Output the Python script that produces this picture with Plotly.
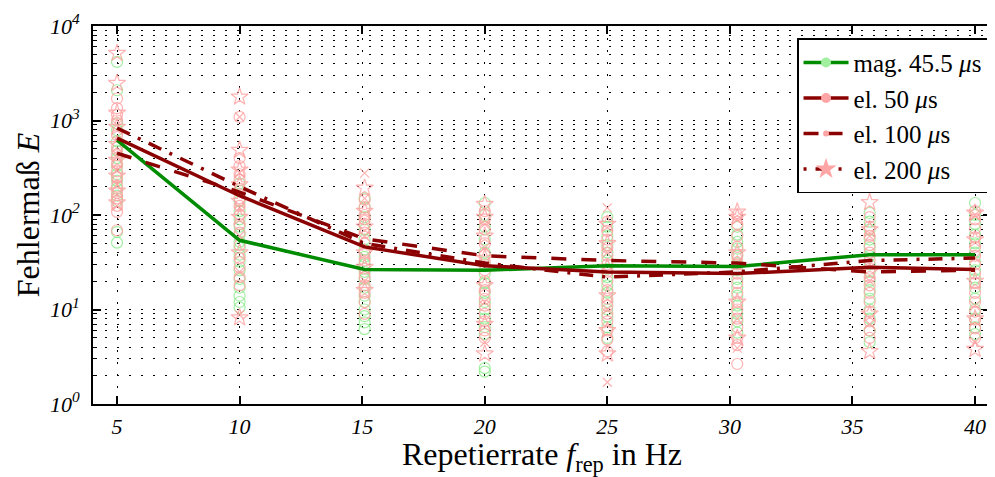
import plotly.graph_objects as go

# ---------------- data ----------------
freqs = [5, 10, 15.1, 20, 25, 30.3, 35.7, 40]

# mean lines
mean_mag45 = [620, 54, 26.5, 26, 29, 28.5, 38, 38]
mean_el50 = [650, 160, 46, 29, 25, 24, 28, 26.5]
mean_el100 = [450, 175, 56, 37, 33, 31, 25, 26]
mean_el200 = [830, 200, 50, 31, 22, 25, 33, 35]

# individual measurements per repetition rate
pts_mag45 = [
    [4170, 2090, 930, 790, 600, 480, 400, 330, 270, 230, 190, 160, 140, 66, 51],
    [215, 180, 140, 110, 90, 75, 62, 52, 45, 38, 32, 26, 21, 17, 14, 12, 10.5],
    [150, 120, 95, 70, 55, 43, 36, 30, 25, 21, 17, 14, 12, 10, 8.5, 7.3, 6.2],
    [134, 100, 75, 55, 40, 30, 24, 19, 15, 12, 10, 8, 6.5, 5.5, 2.4, 2.2],
    [95, 75, 60, 48, 40, 33, 27, 22, 18, 15, 12, 10, 8.4, 6.5, 5],
    [75, 62, 52, 44, 37, 31, 26, 21, 17, 14, 11, 9, 7.5, 5.7],
    [105, 85, 70, 55, 45, 37, 30, 25, 20, 16, 13, 10, 8, 6, 4.5],
    [134, 100, 80, 62, 50, 40, 32, 26, 21, 17, 13, 10, 8, 6.5, 5.5],
]
pts_el50 = [
    [1710, 1350, 1150, 1000, 700, 520, 430, 350, 290, 250, 200, 170, 150, 125, 108, 69],
    [1090, 400, 330, 270, 235, 190, 150, 125, 100, 80, 65, 48, 35, 28, 22, 18],
    [145, 121, 100, 90, 80, 65, 50, 40, 33, 27, 22, 18, 15, 12, 9],
    [110, 90, 70, 50, 38, 32, 26, 20, 16, 13, 11, 9, 7.5, 6, 5],
    [85, 68, 55, 45, 37, 30, 25, 20, 16, 13, 11, 9, 7.5, 6, 4.8, 3.6],
    [100, 80, 60, 46, 38, 30, 24, 19, 15, 12, 10, 8, 6.5, 5, 4.2, 2.65],
    [95, 75, 60, 48, 40, 33, 27, 22, 18, 15, 12, 9.5, 7.5, 6, 5],
    [110, 90, 72, 58, 46, 37, 30, 24, 19, 15, 12, 9.5, 7.8, 6.3, 5],
]
pts_el100 = [
    [900, 620, 410, 300, 210, 124],
    [1090, 280, 120, 60, 25, 8.8],
    [277, 150, 60, 20],
    [80, 45, 12, 4.5],
    [119, 40, 10, 1.7],
    [90, 30, 8, 3.9],
    [60, 20, 7],
    [100, 35, 11, 4.5],
]
pts_el200 = [
    [5150, 2480, 1200, 850, 560, 380, 260, 180, 135],
    [1780, 486, 300, 210, 140, 95, 40, 8.2],
    [193, 110, 75, 40, 28, 16],
    [130, 95, 60, 35, 18, 7, 3.4],
    [80, 50, 28, 14, 6, 3.4],
    [108, 95, 40, 12, 5],
    [136, 70, 25, 9, 3.6],
    [105, 55, 20, 8, 3.8],
]

x_ticks = [5, 10, 15, 20, 25, 30, 35, 40]
y_ticks = [1, 10, 100, 1000, 10000]
y_ticktext = ["10<sup>0</sup>", "10<sup>1</sup>", "10<sup>2</sup>", "10<sup>3</sup>", "10<sup>4</sup>"]

legend_names = ["mag. 45.5 <i>μ</i>s", "el. 50 <i>μ</i>s", "el. 100 <i>μ</i>s", "el. 200 <i>μ</i>s"]

# ---------------- styles ----------------
GREEN = "rgb(0,140,0)"
DARKRED = "rgb(139,0,0)"
LGREEN = "rgba(140,235,140,0.8)"
LPINK = "rgba(255,160,160,0.8)"
FONT = "Liberation Serif, Times New Roman, serif"


def flatten(groups):
    xs, ys = [], []
    for f, g in zip(freqs, groups):
        for v in g:
            xs.append(f)
            ys.append(v)
    return xs, ys


fig = go.Figure()

# scatter clouds
for groups, sym, col, size in [
    (pts_mag45, "circle-open", LGREEN, 11),
    (pts_el50, "circle-open", LPINK, 11),
    (pts_el200, "star-open", LPINK, 13),
]:
    xs, ys = flatten(groups)
    fig.add_trace(go.Scatter(x=xs, y=ys, mode="markers", showlegend=False,
                             marker=dict(symbol=sym, size=size, color=col,
                                         line=dict(color=col, width=1.2))))
xs, ys = flatten(pts_el100)
fig.add_trace(go.Scatter(x=xs, y=ys, mode="markers", showlegend=False,
                         marker=dict(symbol="x-thin", size=9, color=LPINK,
                                     line=dict(color=LPINK, width=1.2))))

# mean lines
line_specs = [
    (mean_mag45, GREEN, "solid"),
    (mean_el50, DARKRED, "solid"),
    (mean_el100, DARKRED, "15px,15px"),
    (mean_el200, DARKRED, "14px,9px,3px,9px"),
]
for vals, col, dash in line_specs:
    fig.add_trace(go.Scatter(x=freqs, y=vals, mode="lines", showlegend=False,
                             line=dict(color=col, width=3.5, dash=dash)))

# legend entries
legend_specs = [
    (legend_names[0], GREEN, "solid", "circle", "rgb(160,240,160)", 10),
    (legend_names[1], DARKRED, "solid", "circle", "rgb(255,165,165)", 10),
    (legend_names[2], DARKRED, "15px,9px", "circle", "rgb(255,165,165)", 6),
    (legend_names[3], DARKRED, "3px,9px,14px,9px", "star", "rgb(255,165,165)", 16),
]
for name, col, dash, sym, mcol, msize in legend_specs:
    fig.add_trace(go.Scatter(x=[None], y=[None], mode="lines+markers", name=name,
                             line=dict(color=col, width=3.5, dash=dash),
                             marker=dict(symbol=sym, size=msize, color=mcol,
                                         line=dict(width=0))))

grid_dash = "2px,10px"

# the page body adds an 8px offset; size the figure so it fills the window
fig.update_layout(
    width=987, height=469,
    margin=dict(l=85, r=4, t=18, b=73, autoexpand=False),
    paper_bgcolor="white", plot_bgcolor="white",
    font=dict(family=FONT, size=20, color="black"),
    showlegend=True,
    legend=dict(x=0.9967, y=0.9675, xanchor="right", yanchor="top",
                bgcolor="white", bordercolor="black", borderwidth=1.5,
                font=dict(family=FONT, size=25), tracegroupgap=0,
                itemwidth=45),
)

fig.update_xaxes(
    automargin=False,
    range=[4.02, 40.65], tickvals=x_ticks, ticktext=[str(t) for t in x_ticks],
    tickfont=dict(family=FONT, size=22, style="italic"),
    ticks="inside", ticklen=8, tickwidth=1.5, tickcolor="black",
    ticklabelstandoff=2,
    showline=True, linewidth=2, linecolor="black", mirror="ticks",
    showgrid=True, gridcolor="black", gridwidth=1.2, griddash=grid_dash,
    zeroline=False,
    title=dict(text="Repetierrate <i>f</i><sub>rep</sub> in Hz",
               font=dict(family=FONT, size=32), standoff=19),
)

fig.update_yaxes(
    automargin=False,
    type="log", range=[0, 4], tickvals=y_ticks, ticktext=y_ticktext,
    tickfont=dict(family=FONT, size=22, style="italic"),
    ticks="inside", ticklen=8, tickwidth=1.5, tickcolor="black",
    ticklabelstandoff=7,
    showline=True, linewidth=2, linecolor="black", mirror="ticks",
    showgrid=True, gridcolor="black", gridwidth=1.2, griddash=grid_dash,
    zeroline=False,
    minor=dict(dtick="D1", ticks="inside", ticklen=4, tickwidth=1.2, tickcolor="black",
               showgrid=True, gridcolor="black", gridwidth=1.2, griddash=grid_dash),
    title=dict(text="Fehlermaß <i>E</i>", font=dict(family=FONT, size=32), standoff=1),
)

fig.write_html("out.html")
